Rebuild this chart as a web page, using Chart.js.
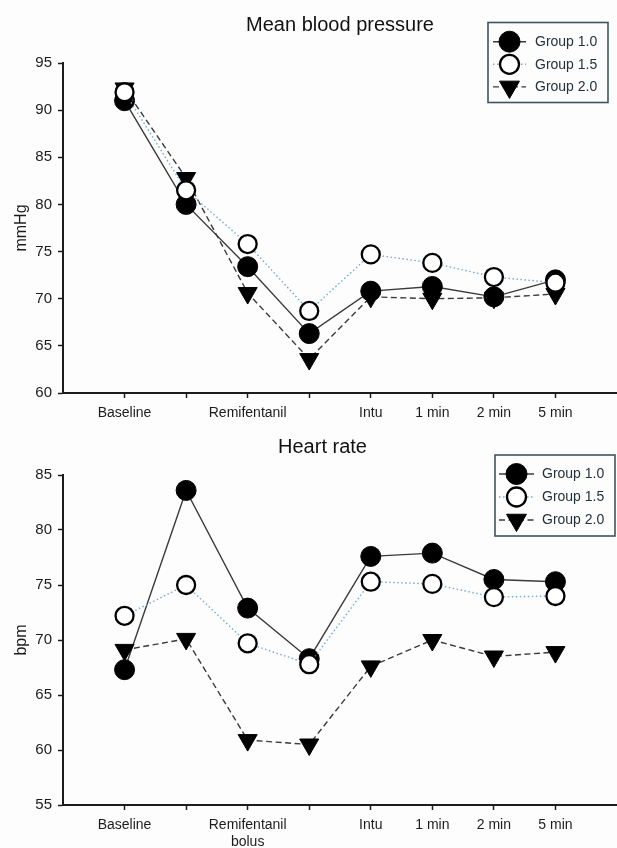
<!DOCTYPE html>
<html>
<head>
<meta charset="utf-8">
<script src="https://cdn.jsdelivr.net/npm/chart.js@4.4.1/dist/chart.umd.min.js"></script>
<style>
  html,body{margin:0;padding:0;background:#fdfdfd;overflow:hidden;}
  .panel{position:absolute;left:0;width:617px;}
  #bpWrap{top:0;height:425px;}
  #hrWrap{top:425px;height:423px;}
</style>
</head>
<body>
<div class="panel" id="bpWrap"><canvas id="bpChart"></canvas></div>
<div class="panel" id="hrWrap"><canvas id="hrChart"></canvas></div>
<script>
"use strict";
// time points (x positions 1..8)
const bpLabels=["Baseline","","Remifentanil","","Intu","1 min","2 min","5 min"];
const hrLabels=["Baseline","",["Remifentanil","bolus"],"","Intu","1 min","2 min","5 min"];
const groupNames=["Group 1.0","Group 1.5","Group 2.0"];

// mean blood pressure, mmHg
const bpGroup10=[91.0,80.0,73.4,66.3,70.8,71.3,70.2,72.0];
const bpGroup15=[91.9,81.5,75.8,68.7,74.7,73.8,72.3,71.7];
const bpGroup20=[92.3,82.8,70.6,63.6,70.2,70.0,70.1,70.5];
const bpTicks=[60,65,70,75,80,85,90,95];

// heart rate, bpm
const hrGroup10=[67.3,83.6,72.9,68.3,77.6,77.9,75.5,75.3];
const hrGroup15=[72.2,75.0,69.7,67.8,75.3,75.1,73.9,74.0];
const hrGroup20=[69.1,70.1,60.9,60.5,67.6,70.0,68.5,68.9];
const hrTicks=[55,60,65,70,75,80,85];

const FONT='"Liberation Sans", Arial, sans-serif';
const INK='#1c1c1c';

function toPoints(values){
    return values.map((v,i)=>({x:i+1,y:v}));
}

function makeDatasets(g10,g15,g20){
    return [{
        label:groupNames[0],
        data:toPoints(g10),
        borderColor:'#3a3a3a',
        borderWidth:1.4,
        pointStyle:'circle',
        pointRadius:10,
        pointHoverRadius:10,
        pointBackgroundColor:'#000',
        pointBorderColor:'#000',
        pointBorderWidth:1,
        order:3
    },{
        label:groupNames[1],
        data:toPoints(g15),
        borderColor:'#74abd0',
        borderWidth:1.4,
        borderDash:[1.5,2.5],
        pointStyle:'circle',
        pointRadius:9,
        pointHoverRadius:9,
        pointBackgroundColor:'#fff',
        pointBorderColor:'#000',
        pointBorderWidth:2.3,
        order:1
    },{
        label:groupNames[2],
        data:toPoints(g20),
        borderColor:'#3a3a3a',
        borderWidth:1.4,
        borderDash:[6,3.5],
        pointStyle:'triangle',
        pointRotation:180,
        pointRadius:11,
        pointHoverRadius:11,
        pointBackgroundColor:'#000',
        pointBorderColor:'#000',
        pointBorderWidth:1,
        order:2
    }];
}

//标题和图例（带线段的图例，Chart.js自带的画不出来）
const panelDecor={
    id:'panelDecor',
    afterDraw(chart,args,opts){
        const ctx=chart.ctx;
        ctx.save();
        ctx.font='20px '+FONT;
        ctx.fillStyle='#111';
        ctx.textAlign='center';
        ctx.textBaseline='middle';
        ctx.fillText(opts.title,opts.titleX,opts.titleY);

        const b=opts.box;
        ctx.strokeStyle='#3d5560';
        ctx.lineWidth=1.6;
        ctx.strokeRect(b.x,b.y,b.w,b.h);

        for(let i=0;i<chart.data.datasets.length;i++){
            const ds=chart.data.datasets[i];
            const y=b.row0+i*b.rowGap;
            ctx.setLineDash(ds.borderDash||[]);
            ctx.strokeStyle=ds.borderColor;
            ctx.lineWidth=ds.borderWidth;
            ctx.beginPath();
            ctx.moveTo(b.lineX0,y);
            ctx.lineTo(b.lineX1,y);
            ctx.stroke();
            ctx.setLineDash([]);

            ctx.fillStyle=ds.pointBackgroundColor;
            ctx.strokeStyle=ds.pointBorderColor;
            ctx.lineWidth=ds.pointBorderWidth;
            ctx.beginPath();
            if(ds.pointStyle==='triangle'){
                const r=ds.pointRadius+0.5;
                ctx.moveTo(b.markX-r*0.866,y-r*0.5);
                ctx.lineTo(b.markX+r*0.866,y-r*0.5);
                ctx.lineTo(b.markX,y+r);
                ctx.closePath();
            }else{
                ctx.arc(b.markX,y,ds.pointRadius+0.5,0,Math.PI*2);
            }
            ctx.fill();
            ctx.stroke();

            ctx.font='14px '+FONT;
            ctx.fillStyle='#23323a';
            ctx.textAlign='left';
            ctx.textBaseline='middle';
            ctx.fillText(ds.label,b.textX,y+0.5);
        }
        ctx.restore();
    }
};

function buildChart(canvasId,labels,datasets,yMin,yMax,yTitle,axisHeight,padTop,decor){
    const options={
        maintainAspectRatio:false,
        responsive:true,
        animation:false,
        layout:{autoPadding:false,padding:{top:padTop,left:0,right:0,bottom:0}},
        scales:{
            x:{
                type:'linear',
                min:0,
                max:9,
                afterBuildTicks:axis=>{
                    axis.ticks=[1,2,3,4,5,6,7,8].map(v=>({value:v}));
                },
                afterFit:axis=>{
                    axis.height=axisHeight;
                    axis.paddingLeft=0;
                    axis.paddingRight=0;
                },
                ticks:{
                    autoSkip:false,
                    maxRotation:0,
                    padding:6,
                    color:INK,
                    font:{family:FONT,size:14,lineHeight:1.25},
                    callback:v=>labels[v-1]
                },
                grid:{
                    drawOnChartArea:false,
                    drawTicks:true,
                    tickLength:5,
                    tickColor:INK,
                    tickWidth:1.5
                },
                border:{display:true,color:INK,width:2}
            },
            y:{
                min:yMin,
                max:yMax,
                afterFit:axis=>{axis.width=63;},
                ticks:{
                    stepSize:5,
                    padding:6,
                    color:INK,
                    font:{family:FONT,size:15}
                },
                title:{
                    display:true,
                    text:yTitle,
                    color:INK,
                    padding:{top:12,bottom:0},
                    font:{family:FONT,size:16}
                },
                grid:{
                    drawOnChartArea:false,
                    drawTicks:true,
                    tickLength:5,
                    tickColor:INK,
                    tickWidth:1.5
                },
                border:{display:true,color:INK,width:2}
            }
        },
        plugins:{
            legend:{display:false},
            title:{display:false},
            tooltip:{enabled:false},
            panelDecor:decor
        }
    };
    return new Chart(document.getElementById(canvasId),{
        type:'line',
        data:{datasets},
        options,
        plugins:[panelDecor]
    });
}

const bpChart=buildChart('bpChart',bpLabels,makeDatasets(bpGroup10,bpGroup15,bpGroup20),
    bpTicks[0],bpTicks[bpTicks.length-1],'mmHg',32,63,{
        title:'Mean blood pressure',titleX:340,titleY:25,
        box:{x:488,y:22.5,w:120,h:80,row0:41.7,rowGap:22.6,lineX0:493,lineX1:526,markX:509.5,textX:535}
    });

const hrChart=buildChart('hrChart',hrLabels,makeDatasets(hrGroup10,hrGroup15,hrGroup20),
    hrTicks[0],hrTicks[hrTicks.length-1],'bpm',43,50,{
        title:'Heart rate',titleX:322.5,titleY:22,
        box:{x:495,y:30,w:120,h:81,row0:49,rowGap:23,lineX0:499,lineX1:534,markX:516.5,textX:542}
    });
</script>
</body>
</html>
